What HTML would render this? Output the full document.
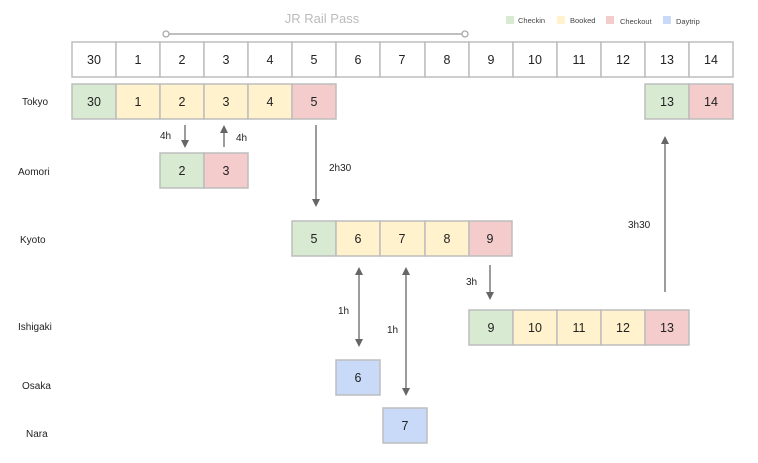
<!DOCTYPE html>
<html><head><meta charset="utf-8"><style>
html,body{margin:0;padding:0;background:#fff;}
svg{display:block;font-family:"Liberation Sans",sans-serif;}
.c{stroke:#bdbdbd;stroke-width:1.5;}
.n{font-size:12.5px;fill:#222;text-anchor:middle;dominant-baseline:central;}
.l{font-size:10px;fill:#222;}
.a{stroke:#666;stroke-width:1.3;fill:none;}
.h{fill:#666;}
</style></head><body>
<svg width="758" height="463" viewBox="0 0 758 463">
<text x="322" y="23" font-size="13" fill="#bbb" text-anchor="middle">JR Rail Pass</text>
<line x1="169" y1="34" x2="462" y2="34" stroke="#aaa" stroke-width="1.5"/>
<circle cx="166" cy="34" r="3" fill="#fff" stroke="#aaa" stroke-width="1.3"/>
<circle cx="465" cy="34" r="3" fill="#fff" stroke="#aaa" stroke-width="1.3"/>
<rect x="506" y="16" width="8" height="8" fill="#d9ead3"/><text x="518" y="23" font-size="7.5" fill="#444">Checkin</text>
<rect x="557" y="16" width="8" height="8" fill="#fff2cc"/><text x="570" y="23" font-size="7.5" fill="#444">Booked</text>
<rect x="606" y="16" width="8" height="8" fill="#f4cccc"/><text x="620" y="24" font-size="7.5" fill="#444">Checkout</text>
<rect x="663" y="16" width="8" height="8" fill="#c9daf8"/><text x="676" y="24" font-size="7.5" fill="#444">Daytrip</text>

<g class="c" fill="#fff">
<rect x="72" y="42" width="44" height="35"/><rect x="116" y="42" width="44" height="35"/><rect x="160" y="42" width="44" height="35"/><rect x="204" y="42" width="44" height="35"/><rect x="248" y="42" width="44" height="35"/><rect x="292" y="42" width="44" height="35"/><rect x="336" y="42" width="44" height="35"/><rect x="380" y="42" width="45" height="35"/><rect x="425" y="42" width="44" height="35"/><rect x="469" y="42" width="44" height="35"/><rect x="513" y="42" width="44" height="35"/><rect x="557" y="42" width="44" height="35"/><rect x="601" y="42" width="44" height="35"/><rect x="645" y="42" width="44" height="35"/><rect x="689" y="42" width="44" height="35"/>
</g>
<g class="n">
<text x="94" y="60">30</text><text x="138" y="60">1</text><text x="182" y="60">2</text><text x="226" y="60">3</text><text x="270" y="60">4</text><text x="314" y="60">5</text><text x="358" y="60">6</text><text x="402" y="60">7</text><text x="447" y="60">8</text><text x="491" y="60">9</text><text x="535" y="60">10</text><text x="579" y="60">11</text><text x="623" y="60">12</text><text x="667" y="60">13</text><text x="711" y="60">14</text>
</g>

<g class="c">
<rect x="72" y="84" width="44" height="35" fill="#d9ead3"/><rect x="116" y="84" width="44" height="35" fill="#fff2cc"/><rect x="160" y="84" width="44" height="35" fill="#fff2cc"/><rect x="204" y="84" width="44" height="35" fill="#fff2cc"/><rect x="248" y="84" width="44" height="35" fill="#fff2cc"/><rect x="292" y="84" width="44" height="35" fill="#f4cccc"/>
<rect x="645" y="84" width="44" height="35" fill="#d9ead3"/><rect x="689" y="84" width="44" height="35" fill="#f4cccc"/>
<rect x="160" y="153" width="44" height="35" fill="#d9ead3"/><rect x="204" y="153" width="44" height="35" fill="#f4cccc"/>
<rect x="292" y="221" width="44" height="35" fill="#d9ead3"/><rect x="336" y="221" width="44" height="35" fill="#fff2cc"/><rect x="380" y="221" width="45" height="35" fill="#fff2cc"/><rect x="425" y="221" width="44" height="35" fill="#fff2cc"/><rect x="469" y="221" width="43" height="35" fill="#f4cccc"/>
<rect x="469" y="310" width="44" height="35" fill="#d9ead3"/><rect x="513" y="310" width="44" height="35" fill="#fff2cc"/><rect x="557" y="310" width="44" height="35" fill="#fff2cc"/><rect x="601" y="310" width="44" height="35" fill="#fff2cc"/><rect x="645" y="310" width="44" height="35" fill="#f4cccc"/>
<rect x="336" y="360" width="44" height="35" fill="#c9daf8"/>
<rect x="383" y="408" width="44" height="35" fill="#c9daf8"/>
</g>
<g class="n">
<text x="94" y="102">30</text><text x="138" y="102">1</text><text x="182" y="102">2</text><text x="226" y="102">3</text><text x="270" y="102">4</text><text x="314" y="102">5</text><text x="667" y="102">13</text><text x="711" y="102">14</text>
<text x="182" y="171">2</text><text x="226" y="171">3</text>
<text x="314" y="239">5</text><text x="358" y="239">6</text><text x="402" y="239">7</text><text x="447" y="239">8</text><text x="490" y="239">9</text>
<text x="491" y="328">9</text><text x="535" y="328">10</text><text x="579" y="328">11</text><text x="623" y="328">12</text><text x="667" y="328">13</text>
<text x="358" y="378">6</text><text x="405" y="426">7</text>
</g>

<g class="l">
<text x="22" y="105">Tokyo</text><text x="18" y="175">Aomori</text><text x="20" y="243">Kyoto</text><text x="18" y="330">Ishigaki</text><text x="22" y="389">Osaka</text><text x="26" y="437">Nara</text>
<text x="160" y="139">4h</text><text x="236" y="141">4h</text><text x="329" y="171">2h30</text><text x="466" y="285">3h</text><text x="628" y="228">3h30</text><text x="338" y="314">1h</text><text x="387" y="333">1h</text>
</g>

<g class="a">
<line x1="185" y1="125" x2="185" y2="142"/>
<line x1="224" y1="147" x2="224" y2="131"/>
<line x1="316" y1="125" x2="316" y2="201"/>
<line x1="490" y1="265" x2="490" y2="294"/>
<line x1="665" y1="292" x2="665" y2="142"/>
<line x1="359" y1="273" x2="359" y2="341"/>
<line x1="406" y1="273" x2="406" y2="390"/>
</g>
<g class="h">
<polygon points="181,140 189,140 185,148"/>
<polygon points="220,133 228,133 224,125"/>
<polygon points="312,199 320,199 316,207"/>
<polygon points="486,292 494,292 490,300"/>
<polygon points="661,144 669,144 665,136"/>
<polygon points="355,275 363,275 359,267"/>
<polygon points="355,339 363,339 359,347"/>
<polygon points="402,275 410,275 406,267"/>
<polygon points="402,388 410,388 406,396"/>
</g>
</svg>
</body></html>
